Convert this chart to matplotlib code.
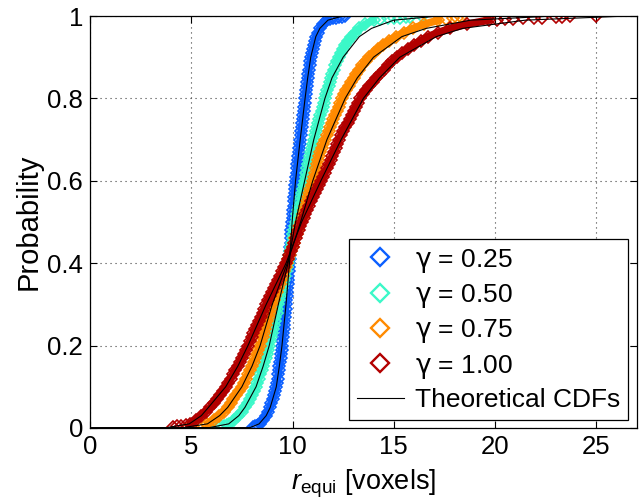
import matplotlib
matplotlib.use("Agg")
import matplotlib.pyplot as plt
from matplotlib.lines import Line2D

plt.rcParams['font.family'] = ['Liberation Sans', 'DejaVu Sans']
plt.rcParams['mathtext.fontset'] = 'custom'
plt.rcParams['mathtext.rm'] = 'Liberation Sans'
plt.rcParams['mathtext.it'] = 'Liberation Sans:italic'
plt.rcParams['mathtext.sf'] = 'DejaVu Sans'

# series
labels = [r'$\mathsf{γ}$ = 0.25', r'$\mathsf{γ}$ = 0.50',
          r'$\mathsf{γ}$ = 0.75', r'$\mathsf{γ}$ = 1.00']
colors = ['#0B5FFF', '#3BF8C8', '#FF8A00', '#B20000']

# empirical CDFs, body: probability levels 0.01 ... 0.99
p_body = [0.01, 0.02, 0.03, 0.04, 0.05, 0.06, 0.07, 0.08, 0.09, 0.10,
          0.11, 0.12, 0.13, 0.14, 0.15, 0.16, 0.17, 0.18, 0.19, 0.20,
          0.21, 0.22, 0.23, 0.24, 0.25, 0.26, 0.27, 0.28, 0.29, 0.30,
          0.31, 0.32, 0.33, 0.34, 0.35, 0.36, 0.37, 0.38, 0.39, 0.40,
          0.41, 0.42, 0.43, 0.44, 0.45, 0.46, 0.47, 0.48, 0.49, 0.50,
          0.51, 0.52, 0.53, 0.54, 0.55, 0.56, 0.57, 0.58, 0.59, 0.60,
          0.61, 0.62, 0.63, 0.64, 0.65, 0.66, 0.67, 0.68, 0.69, 0.70,
          0.71, 0.72, 0.73, 0.74, 0.75, 0.76, 0.77, 0.78, 0.79, 0.80,
          0.81, 0.82, 0.83, 0.84, 0.85, 0.86, 0.87, 0.88, 0.89, 0.90,
          0.91, 0.92, 0.93, 0.94, 0.95, 0.96, 0.97, 0.98, 0.99]

x_body_025 = [8.38, 8.55, 8.70, 8.80, 8.89, 8.96, 9.02, 9.08, 9.14, 9.19,
              9.23, 9.26, 9.29, 9.32, 9.35, 9.38, 9.41, 9.43, 9.46, 9.48,
              9.50, 9.52, 9.54, 9.56, 9.58, 9.60, 9.62, 9.64, 9.66, 9.68,
              9.70, 9.71, 9.73, 9.74, 9.76, 9.78, 9.80, 9.81, 9.83, 9.85,
              9.86, 9.88, 9.89, 9.90, 9.91, 9.92, 9.94, 9.95, 9.97, 9.98,
              10.00, 10.01, 10.03, 10.05, 10.07, 10.08, 10.10, 10.12, 10.14, 10.15,
              10.18, 10.20, 10.22, 10.24, 10.27, 10.29, 10.31, 10.33, 10.36, 10.38,
              10.41, 10.43, 10.46, 10.48, 10.50, 10.52, 10.55, 10.57, 10.60, 10.62,
              10.65, 10.67, 10.70, 10.72, 10.75, 10.78, 10.81, 10.84, 10.87, 10.90,
              10.95, 11.00, 11.05, 11.10, 11.16, 11.25, 11.36, 11.50, 11.72]
x_body_050 = [6.88, 7.12, 7.33, 7.50, 7.65, 7.78, 7.89, 8.00, 8.10, 8.20,
              8.27, 8.34, 8.41, 8.48, 8.55, 8.61, 8.67, 8.73, 8.79, 8.85,
              8.89, 8.94, 8.98, 9.03, 9.07, 9.12, 9.16, 9.21, 9.25, 9.30,
              9.35, 9.40, 9.44, 9.49, 9.54, 9.59, 9.64, 9.68, 9.73, 9.78,
              9.82, 9.85, 9.89, 9.93, 9.96, 10.00, 10.04, 10.07, 10.11, 10.15,
              10.20, 10.24, 10.29, 10.33, 10.38, 10.42, 10.47, 10.51, 10.56, 10.60,
              10.65, 10.69, 10.74, 10.78, 10.83, 10.87, 10.92, 10.96, 11.01, 11.05,
              11.11, 11.16, 11.22, 11.27, 11.33, 11.38, 11.44, 11.49, 11.55, 11.60,
              11.66, 11.72, 11.78, 11.84, 11.90, 11.97, 12.04, 12.12, 12.20, 12.28,
              12.38, 12.48, 12.60, 12.74, 12.90, 13.08, 13.30, 13.60, 14.00]
x_body_075 = [5.80, 6.10, 6.38, 6.60, 6.80, 6.94, 7.08, 7.22, 7.36, 7.50,
              7.60, 7.70, 7.80, 7.90, 8.00, 8.08, 8.16, 8.24, 8.32, 8.40,
              8.46, 8.52, 8.58, 8.64, 8.70, 8.76, 8.82, 8.88, 8.94, 9.00,
              9.07, 9.14, 9.21, 9.28, 9.36, 9.44, 9.51, 9.58, 9.66, 9.74,
              9.80, 9.86, 9.93, 10.00, 10.07, 10.13, 10.20, 10.27, 10.33, 10.40,
              10.46, 10.52, 10.58, 10.64, 10.70, 10.76, 10.82, 10.88, 10.94, 11.00,
              11.06, 11.12, 11.16, 11.20, 11.25, 11.30, 11.36, 11.44, 11.53, 11.62,
              11.70, 11.78, 11.86, 11.94, 12.02, 12.10, 12.19, 12.28, 12.36, 12.45,
              12.55, 12.65, 12.77, 12.90, 13.02, 13.15, 13.30, 13.45, 13.62, 13.80,
              14.00, 14.20, 14.45, 14.75, 15.10, 15.50, 15.95, 16.50, 17.20]
x_body_100 = [4.95, 5.25, 5.50, 5.72, 5.95, 6.12, 6.28, 6.42, 6.56, 6.70,
              6.82, 6.94, 7.06, 7.18, 7.30, 7.40, 7.50, 7.60, 7.70, 7.80,
              7.89, 7.98, 8.07, 8.16, 8.25, 8.34, 8.43, 8.52, 8.61, 8.70,
              8.80, 8.90, 8.99, 9.08, 9.18, 9.28, 9.38, 9.48, 9.58, 9.68,
              9.76, 9.84, 9.92, 10.00, 10.08, 10.15, 10.23, 10.30, 10.38, 10.45,
              10.55, 10.64, 10.74, 10.83, 10.93, 11.02, 11.12, 11.21, 11.31, 11.40,
              11.50, 11.60, 11.70, 11.80, 11.89, 11.97, 12.05, 12.13, 12.21, 12.30,
              12.40, 12.50, 12.61, 12.72, 12.82, 12.92, 13.03, 13.14, 13.24, 13.35,
              13.48, 13.62, 13.78, 13.95, 14.12, 14.30, 14.50, 14.70, 14.92, 15.15,
              15.40, 15.68, 15.98, 16.32, 16.70, 17.20, 17.80, 18.60, 19.70]

# sparse tail points (low and high ends)
x_tail_025 = [8.05, 8.15, 8.25, 8.32, 11.85, 12.00, 12.15, 12.30, 12.45, 12.60]
p_tail_025 = [0.002, 0.004, 0.006, 0.008, 0.992, 0.994, 0.996, 0.997, 0.998, 1.0]
x_tail_050 = [6.30, 6.45, 6.60, 6.75, 14.30, 14.70, 15.00, 15.30, 15.60, 15.80, 16.40]
p_tail_050 = [0.002, 0.004, 0.006, 0.008, 0.992, 0.994, 0.995, 0.996, 0.997, 0.998, 1.0]
x_tail_075 = [4.85, 5.10, 5.30, 5.50, 17.60, 17.90, 18.10, 18.30, 19.70]
p_tail_075 = [0.002, 0.004, 0.006, 0.008, 0.992, 0.994, 0.996, 0.998, 1.0]
x_tail_100 = [4.10, 4.30, 4.50, 4.75,
              20.10, 20.50, 20.90, 21.40, 21.90, 22.30, 23.00, 23.30, 23.70, 25.00]
p_tail_100 = [0.002, 0.004, 0.006, 0.008,
              0.991, 0.992, 0.993, 0.994, 0.995, 0.996, 0.997, 0.998, 0.999, 1.0]

# theoretical CDFs
p_theory = [0.0, 0.001, 0.01, 0.03, 0.05, 0.10, 0.15, 0.20, 0.30, 0.40, 0.50,
            0.60, 0.70, 0.80, 0.85, 0.90, 0.95, 0.97, 0.99, 0.999, 1.0]
x_theory_025 = [0.0, 7.90, 8.35, 8.70, 8.90, 9.20, 9.35, 9.48, 9.68, 9.85, 9.98,
                10.15, 10.38, 10.62, 10.75, 10.90, 11.15, 11.35, 11.75, 12.40, 27.0]
x_theory_050 = [0.0, 5.90, 6.85, 7.35, 7.65, 8.20, 8.55, 8.85, 9.30, 9.78, 10.15,
                10.60, 11.05, 11.60, 11.95, 12.50, 13.30, 13.90, 15.00, 17.00, 27.0]
x_theory_075 = [0.0, 4.60, 5.80, 6.40, 6.80, 7.50, 8.00, 8.40, 9.00, 9.74, 10.40,
                11.00, 11.70, 12.60, 13.20, 14.00, 15.40, 16.60, 18.80, 22.50, 27.0]
x_theory_100 = [0.0, 3.80, 4.90, 5.50, 5.85, 6.70, 7.30, 7.80, 8.70, 9.68, 10.45,
                11.40, 12.40, 13.50, 14.30, 15.30, 17.10, 18.40, 21.50, 26.00, 27.0]

x_body = [x_body_025, x_body_050, x_body_075, x_body_100]
x_tail = [x_tail_025, x_tail_050, x_tail_075, x_tail_100]
p_tail = [p_tail_025, p_tail_050, p_tail_075, p_tail_100]
x_theory = [x_theory_025, x_theory_050, x_theory_075, x_theory_100]

fig = plt.figure(figsize=(6.4, 5.04), dpi=100)
ax = fig.add_axes([0.1406, 0.1508, 0.8544, 0.8174])

mk = dict(marker='D', linestyle='none', markersize=5.8, markerfacecolor='none',
          markeredgewidth=1.2)

# dense markers overlap into a solid band
for i in range(4):
    ax.plot(x_body[i], p_body, color=colors[i], linewidth=5.5,
            solid_joinstyle='round', solid_capstyle='round')
    ax.plot(x_body[i], p_body, color=colors[i], **mk)
    ax.plot(x_tail[i], p_tail[i], color=colors[i], **mk)

for i in range(4):
    ax.plot(x_theory[i], p_theory, color='black', linewidth=0.8)

ax.set_xlim(0, 27)
ax.set_ylim(0, 1)
ax.set_xticks([0, 5, 10, 15, 20, 25])
ax.set_yticks([0, 0.2, 0.4, 0.6, 0.8, 1])
ax.set_yticklabels(['0', '0.2', '0.4', '0.6', '0.8', '1'])
ax.tick_params(direction='in', top=True, right=True, labelsize=18.5, length=5,
               width=0.8, pad=5)
ax.grid(True, color='0.25', linestyle=(0, (1, 3.5)), linewidth=0.8)
for s in ax.spines.values():
    s.set_linewidth(0.9)

ax.set_xlabel(r'$\mathit{r}_{\mathrm{equi}}$ [voxels]', fontsize=19.5, labelpad=6)
ax.set_ylabel('Probability', fontsize=21, labelpad=3)

handles = [Line2D([], [], color=c, marker='D', linestyle='none', markersize=9.5,
                  markerfacecolor='none', markeredgewidth=1.7) for c in colors]
handles.append(Line2D([], [], color='black', linewidth=0.8))
leg = ax.legend(handles, labels + ['Theoretical CDFs'], loc='lower right',
                bbox_to_anchor=(0.9835, 0.0194), borderaxespad=0, fontsize=19,
                frameon=True, fancybox=False, edgecolor='black', framealpha=1,
                handlelength=1.8, handletextpad=0.4, labelspacing=0.28,
                borderpad=0.3)
leg.get_frame().set_linewidth(0.9)

fig.savefig('out.png', dpi=100)
